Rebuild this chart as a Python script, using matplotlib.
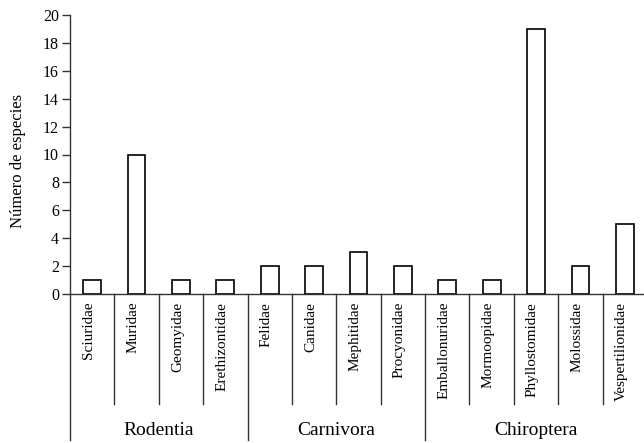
import matplotlib.pyplot as plt
import matplotlib.transforms as mtransforms

families = ['Sciuridae', 'Muridae', 'Geomyidae', 'Erethizontidae',
            'Felidae', 'Canidae', 'Mephitidae', 'Procyonidae',
            'Emballonuridae', 'Mormoopidae', 'Phyllostomidae', 'Molossidae',
            'Vespertilionidae']
species = [1, 10, 1, 1, 2, 2, 3, 2, 1, 1, 19, 2, 5]
orders = ['Rodentia', 'Carnivora', 'Chiroptera']
order_sizes = [4, 4, 5]

plt.rcParams['font.family'] = ['Liberation Serif', 'DejaVu Serif']

W, H = 644, 443
fig = plt.figure(figsize=(W / 100, H / 100), dpi=100)
fig.patch.set_facecolor('white')
ax = fig.add_axes([70 / W, 149 / H, 577 / W, 279 / H])

x = list(range(len(families)))
ax.bar(x, species, width=0.4, color='white', edgecolor='black', linewidth=1.2, zorder=3)

ax.set_xlim(-0.5, len(families) - 0.5)
ax.set_ylim(0, 20)
ax.set_yticks(range(0, 21, 2))
ax.set_xticks([])
ax.tick_params(axis='y', direction='out', length=6, width=1, labelsize=11.5, pad=2, color='#333333')
ax.spines['top'].set_visible(False)
ax.spines['right'].set_visible(False)
for s in ['left', 'bottom']:
    ax.spines[s].set_color('#333333')
    ax.spines[s].set_linewidth(1)
ax.set_ylabel('Número de especies', fontsize=12)
ax.yaxis.set_label_coords(-0.076, 0.477)

trans = mtransforms.blended_transform_factory(ax.transData, ax.transAxes)

# family labels and separators under the axis
for i, name in enumerate(families):
    ax.text(i - 0.08, -0.028, name, rotation=90, ha='center', va='top',
            fontsize=11, transform=trans)

group_edges = [-0.5]
for n in order_sizes:
    group_edges.append(group_edges[-1] + n)

for i in range(len(families)):
    edge = i - 0.5
    low = -0.525 if edge in group_edges else -0.395
    ax.plot([edge, edge], [0, low], color='#333333', lw=1, transform=trans, clip_on=False)

for k, name in enumerate(orders):
    mid = (group_edges[k] + group_edges[k + 1]) / 2
    ax.text(mid, -0.49, name, ha='center', va='center', fontsize=14, transform=trans)

fig.savefig('out.png', dpi=100)
